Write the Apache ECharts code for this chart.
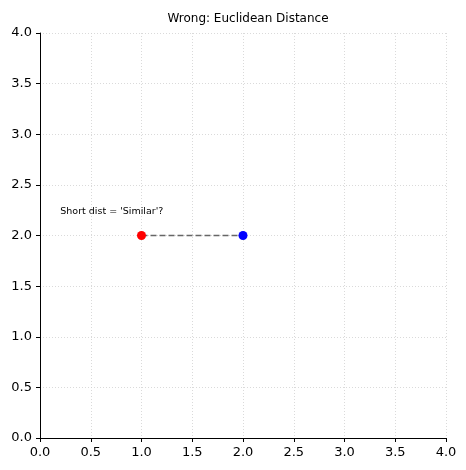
<!DOCTYPE html>
<html><head><meta charset="utf-8">
<script src="https://cdn.jsdelivr.net/npm/echarts@6/dist/echarts.min.js"></script>
<style>html,body{margin:0;padding:0;background:#fff}#c{width:466px;height:470px}</style>
</head><body><div id="c"></div>
<script>
const title = "Wrong: Euclidean Distance";
const pointA = [1, 2];
const pointB = [2, 2];
const noteText = "Short dist = 'Similar'?";
const notePos = [0.2, 2.2];
const ticks = [0, 0.5, 1, 1.5, 2, 2.5, 3, 3.5, 4];

const font = 'DejaVu Sans';
const axisCommon = {
  min: 0, max: 4, interval: 0.5,
  axisLine: {show: true, onZero: false, lineStyle: {color: '#000', width: 1}},
  axisTick: {show: true, length: 4, lineStyle: {color: '#000'}},
  axisLabel: {color: '#000', fontFamily: font, fontSize: 13, formatter: v => v.toFixed(1)},
  splitLine: {show: true, lineStyle: {color: '#d0d0d0', type: [1, 2], width: 0.8}}
};
const chart = echarts.init(document.getElementById('c'));
chart.setOption({
  animation: false,
  title: {text: title, left: 243, top: 8, textAlign: 'center',
    textStyle: {fontFamily: font, fontSize: 12, fontWeight: 'normal', color: '#000'}},
  grid: {left: 40, right: 20, top: 33, bottom: 32},
  xAxis: Object.assign({type: 'value'}, axisCommon),
  yAxis: Object.assign({type: 'value'}, axisCommon),
  series: [
    {type: 'line', data: [pointA, pointB], symbol: 'none',
      lineStyle: {color: '#666', type: [6, 3], width: 1.5}, z: 1},
    {type: 'scatter', data: [pointA], symbolSize: 9, itemStyle: {color: 'red', opacity: 1}, z: 3},
    {type: 'scatter', data: [pointB], symbolSize: 9, itemStyle: {color: 'blue', opacity: 1}, z: 3},
    {type: 'scatter', data: [notePos], symbolSize: 0, itemStyle: {opacity: 1},
      label: {show: true, position: 'right', distance: 0, offset: [0, -4], formatter: noteText,
        fontFamily: font, fontSize: 9.5, color: '#000', opacity: 1}}
  ]
});
</script></body></html>
